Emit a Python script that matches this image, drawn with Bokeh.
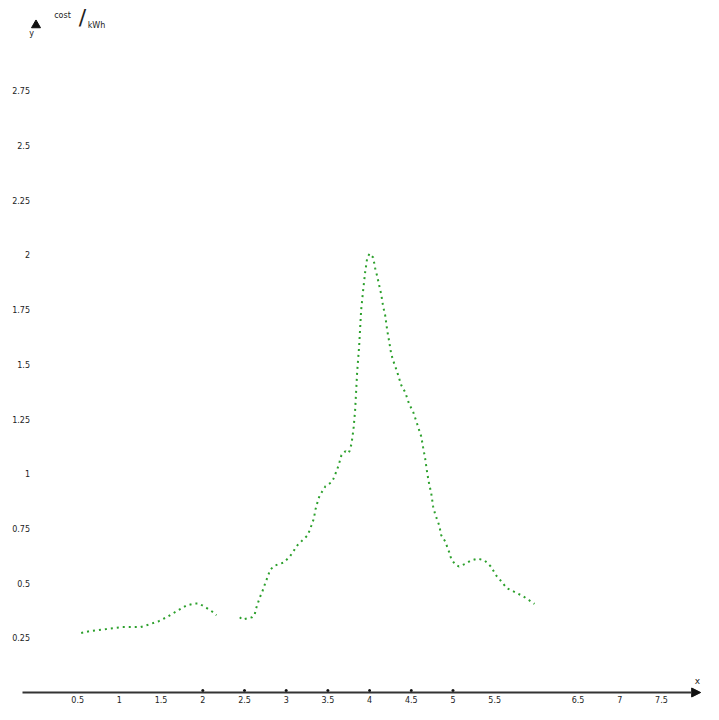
from bokeh.plotting import figure
from bokeh.models import Range1d, Label, Arrow, NormalHead, ColumnDataSource
from bokeh.embed import file_html
from bokeh.resources import INLINE
from bokeh.core.properties import value
import numpy as np

# ---- data ----
curve_x = [0.542, 0.645, 0.845, 1.037, 1.253, 1.349, 1.472, 1.565, 1.685, 1.805,
           1.900, 1.952, 2.044, 2.132, 2.164, np.nan, 2.444, 2.472, 2.592, 2.620,
           2.640, 2.683, 2.712, 2.758, 2.782, 2.803, 2.851, 2.899, 2.971, 3.043,
           3.139, 3.259, 3.303, 3.331, 3.351, 3.379, 3.399, 3.471, 3.543, 3.567,
           3.615, 3.639, 3.663, 3.711, 3.735, 3.759, 3.783, 3.807, 3.827, 3.851,
           3.875, 3.899, 3.923, 3.947, 3.971, 3.999, 4.043, 4.067, 4.091, 4.115,
           4.139, 4.163, 4.187, 4.211, 4.235, 4.259, 4.283, 4.331, 4.379, 4.427,
           4.475, 4.523, 4.571, 4.619, 4.643, 4.667, 4.691, 4.715, 4.739, 4.763,
           4.787, 4.835, 4.859, 4.906, 4.954, 4.978, 5.022, 5.070, 5.141, 5.213,
           5.297, 5.381, 5.453, 5.525, 5.549, 5.645, 5.741, 5.837, 5.909, 5.977]
curve_y = [0.272, 0.281, 0.290, 0.299, 0.299, 0.310, 0.326, 0.344, 0.371, 0.398,
           0.407, 0.407, 0.387, 0.365, 0.353, np.nan, 0.344, 0.333, 0.344, 0.353,
           0.385, 0.434, 0.459, 0.510, 0.531, 0.558, 0.578, 0.585, 0.594, 0.621,
           0.675, 0.719, 0.764, 0.794, 0.836, 0.875, 0.898, 0.943, 0.961, 0.977,
           1.023, 1.053, 1.085, 1.103, 1.094, 1.103, 1.136, 1.203, 1.293, 1.465,
           1.584, 1.749, 1.839, 1.921, 1.985, 2.006, 1.988, 1.939, 1.903, 1.861,
           1.821, 1.764, 1.724, 1.656, 1.604, 1.548, 1.517, 1.465, 1.405, 1.372,
           1.318, 1.282, 1.227, 1.170, 1.118, 1.068, 1.003, 0.952, 0.911, 0.848,
           0.814, 0.764, 0.719, 0.691, 0.642, 0.612, 0.587, 0.576, 0.587, 0.603,
           0.612, 0.603, 0.576, 0.531, 0.522, 0.477, 0.459, 0.441, 0.423, 0.405]

x_ticks = [0.5, 1, 1.5, 2, 2.5, 3, 3.5, 4, 4.5, 5, 5.5, 6.5, 7, 7.5]
x_tick_labels = ["0.5", "1", "1.5", "2", "2.5", "3", "3.5", "4", "4.5", "5", "5.5", "6.5", "7", "7.5"]
x_tick_dots = [2, 2.5, 3, 3.5, 4, 4.5, 5]
y_ticks = [0.25, 0.5, 0.75, 1, 1.25, 1.5, 1.75, 2, 2.25, 2.5, 2.75]
y_tick_labels = ["0.25", "0.5", "0.75", "1", "1.25", "1.5", "1.75", "2", "2.25", "2.5", "2.75"]

W, H = 703, 704
p = figure(width=W, height=H, x_range=Range1d(-0.4257, 8.004), y_range=Range1d(-0.0548, 3.1627),
           output_backend="svg", toolbar_location=None, min_border=0,
           x_axis_location=None, y_axis_location=None)
p.grid.visible = False
p.outline_line_color = None
p.background_fill_color = "white"
p.border_fill_color = "white"

FONT = value("DejaVu Sans")
TXT = "#222222"

# x axis line with arrow
p.add_layout(Arrow(end=NormalHead(size=9, fill_color="#111111", line_color="#111111"),
                   x_start=-0.162, y_start=0, x_end=7.97, y_end=0,
                   line_color="#333333", line_width=2))
# y axis arrow head only
p.scatter(x=[0], y=[3.05], marker="triangle", size=9, fill_color="#111111", line_color="#111111")

# x tick dots (just above the axis line)
p.scatter(x=x_tick_dots, y=[0.009] * len(x_tick_dots), size=3,
          fill_color="#111111", line_color=None)

xs = ColumnDataSource(dict(x=x_ticks, y=[0] * len(x_ticks), t=x_tick_labels))
p.text(x="x", y="y", text="t", source=xs, text_align="center", text_baseline="top",
       y_offset=3, text_font=FONT, text_font_size="8px", text_color=TXT)

ys = ColumnDataSource(dict(x=[0] * len(y_ticks), y=y_ticks, t=y_tick_labels))
p.text(x="x", y="y", text="t", source=ys, text_align="right", text_baseline="middle",
       x_offset=-6, text_font=FONT, text_font_size="8px", text_color=TXT)

# axis titles
p.add_layout(Label(x=697, y=H - 680, x_units="screen", y_units="screen", text="x",
                   text_font="DejaVu Sans", text_font_size="9px", text_color=TXT,
                   text_align="center", text_baseline="middle"))
p.add_layout(Label(x=31, y=H - 33, x_units="screen", y_units="screen", text="y",
                   text_font="DejaVu Sans", text_font_size="8px", text_color=TXT,
                   text_align="center", text_baseline="middle"))
p.add_layout(Label(x=62, y=H - 15, x_units="screen", y_units="screen", text="cost",
                   text_font="DejaVu Sans", text_font_size="8px", text_color=TXT,
                   text_align="center", text_baseline="middle"))
p.add_layout(Label(x=82, y=H - 17, x_units="screen", y_units="screen", text="/",
                   text_font="DejaVu Sans", text_font_size="22px", text_color=TXT,
                   text_align="center", text_baseline="middle"))
p.add_layout(Label(x=96, y=H - 25, x_units="screen", y_units="screen", text="kWh",
                   text_font="DejaVu Sans", text_font_size="8px", text_color=TXT,
                   text_align="center", text_baseline="middle"))

# curve
cs = ColumnDataSource(dict(x=curve_x, y=curve_y))
p.line(x="x", y="y", source=cs, line_color="#2ca02c", line_width=2, line_dash="2 4")

open("out.html", "w").write(file_html(p, INLINE))
